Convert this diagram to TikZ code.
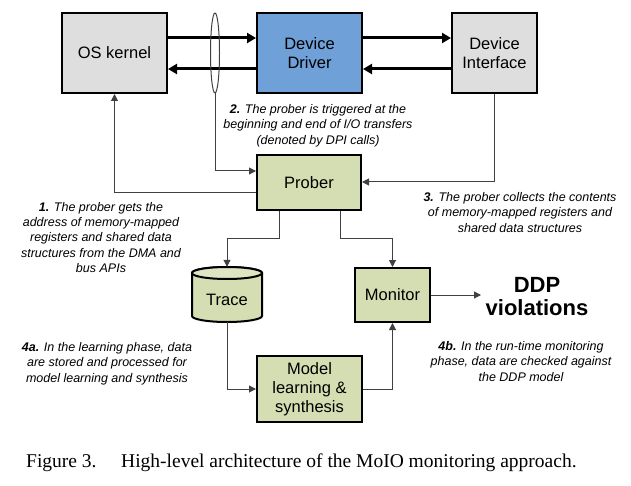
\documentclass[tikz,border=0pt]{standalone}
\usepackage{fontspec}
\setmainfont{Liberation Serif}
\newfontfamily\arial{Liberation Sans}
\usetikzlibrary{shapes.geometric,arrows.meta}
\definecolor{boxgreen}{HTML}{D5DEB3}
\definecolor{boxblue}{HTML}{6FA0D7}
\definecolor{boxgray}{HTML}{DEDEDE}
\definecolor{linegray}{HTML}{404040}
\tikzset{
  block/.style={draw=black, line width=2pt, inner sep=0pt, align=center,
    font=\arial\fontsize{16.5}{19}\selectfont},
  bigarrow/.style={line width=3pt, -{Triangle[length=9pt,width=10pt]}},
  thinline/.style={draw=linegray, line width=1pt},
  thinarrow/.style={thinline, -{Triangle[length=7pt,width=7pt]}, color=linegray},
  note/.style={align=center, inner sep=0pt,
    font=\arial\itshape\fontsize{12.5}{15.3}\selectfont},
  captext/.style={anchor=base west, inner sep=0pt, font=\fontsize{19.5}{22}\selectfont},
}
\begin{document}
\begin{tikzpicture}[x=1pt,y=-1pt]
\useasboundingbox (0,0) rectangle (631,486);
% top blocks
\node[block, fill=boxgray, minimum width=105pt, minimum height=80pt] (os) at (114.5,53) {OS kernel};
\node[block, fill=boxblue, minimum width=105pt, minimum height=80pt] (dd) at (309.5,53) {Device\\Driver};
\node[block, fill=boxgray, minimum width=85pt, minimum height=80pt] (di) at (494.5,53) {Device\\Interface};
% middle/lower blocks
\node[block, fill=boxgreen, minimum width=104pt, minimum height=55pt] (prober) at (309,182.5) {Prober};
\node[block, fill=boxgreen, minimum width=75pt, minimum height=54pt] (monitor) at (392.5,295) {Monitor};
\node[block, fill=boxgreen, minimum width=105pt, minimum height=66pt] (model) at (309.5,389) {Model\\learning \&\\synthesis};
% trace cylinder
\node[minimum width=70pt, minimum height=55pt, inner sep=0pt] (trace) at (227,294.5) {};
\filldraw[fill=boxgreen, draw=black, line width=2pt]
  (192,273) -- (192,316) arc[start angle=180, end angle=360, x radius=35pt, y radius=6pt]
  -- (262,273) arc[start angle=0, end angle=180, x radius=35pt, y radius=6pt] -- cycle;
\draw[fill=boxgreen!80!white, line width=2pt] (227,273) ellipse[x radius=35pt, y radius=6pt];
\node[font=\arial\fontsize{16.5}{19}\selectfont, inner sep=0pt] (tracelabel) at (227,300) {Trace};
% thick arrows
\draw[bigarrow] ([yshift=15pt]os.east) -- ([yshift=15pt]dd.west);
\draw[bigarrow] ([yshift=-16pt]dd.west) -- ([yshift=-16pt]os.east);
\draw[bigarrow] ([yshift=15pt]dd.east) -- ([yshift=15pt]di.west);
\draw[bigarrow] ([yshift=-16pt]di.west) -- ([yshift=-16pt]dd.east);
% ellipse marker
\node[ellipse, draw=linegray, line width=1pt, minimum width=9pt, minimum height=80pt, inner sep=0pt] (ell) at (215,53) {};
% thin connectors
\draw[thinarrow] (ell.south) |- ([yshift=11.5pt]prober.west);
\draw[thinarrow] ([yshift=-10.5pt]prober.west) -| (os.south);
\draw[thinarrow] (di.south) |- ([yshift=0.5pt]prober.east);
\coordinate (pl) at ([xshift=-30pt]prober.south);
\coordinate (pr) at ([xshift=31pt]prober.south);
\coordinate (plk) at (279,238);
\coordinate (prk) at (340,238);
\draw[thinarrow] (pl) -- (plk) -| (trace.north);
\draw[thinarrow] (pr) -- (prk) -| (monitor.north);
\coordinate (ddpend) at (481,295);
\draw[thinarrow] (monitor.east) -- (ddpend);
\draw[thinarrow] (trace.south) |- (model.west);
\draw[thinarrow] (model.east) -| (monitor.south);
% DDP violations
\node[align=center, inner sep=0pt, font=\arial\bfseries\fontsize{22}{23.5}\selectfont] (ddp) at (537,296.5) {DDP\\violations};
% notes
\node[note] (n2) at (318,125.5) {\textbf{2.} The prober is triggered at the\\beginning and end of I/O transfers\\(denoted by DPI calls)};
\node[note] (n1) at (101,237.5) {\textbf{1.} The prober gets the\\address of memory-mapped\\registers and shared data\\structures from the DMA and\\bus APIs};
\node[note] (n3) at (520,212.5) {\textbf{3.} The prober collects the contents\\of memory-mapped registers and\\shared data structures};
\node[note] (n4a) at (107,363.5) {\textbf{4a.} In the learning phase, data\\are stored and processed for\\model learning and synthesis};
\node[note] (n4b) at (521,361.5) {\textbf{4b.} In the run-time monitoring\\phase, data are checked against\\the DDP model};
% caption
\node[captext] (capa) at (26,467) {Figure 3.};
\node[captext] (capb) at (121,467) {High-level architecture of the MoIO monitoring approach.};
\end{tikzpicture}
\end{document}
